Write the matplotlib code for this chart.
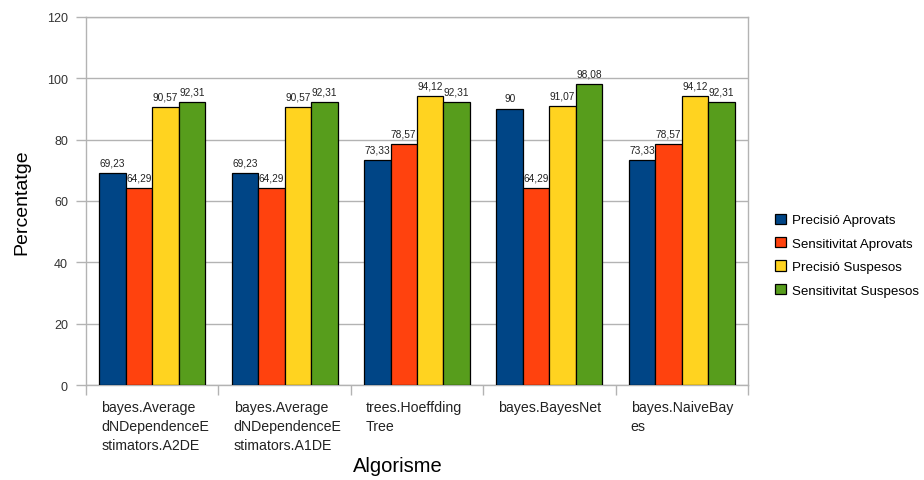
import matplotlib
matplotlib.use("Agg")
import matplotlib.pyplot as plt
import numpy as np
from matplotlib.patches import Patch

plt.rcParams['font.family'] = ['Liberation Sans', 'DejaVu Sans']

categories = [
    "bayes.Average\ndNDependenceE\nstimators.A2DE",
    "bayes.Average\ndNDependenceE\nstimators.A1DE",
    "trees.Hoeffding\nTree",
    "bayes.BayesNet",
    "bayes.NaiveBay\nes",
]
series_names = ["Precisió Aprovats", "Sensitivitat Aprovats",
                "Precisió Suspesos", "Sensitivitat Suspesos"]
precisio_aprovats = [69.23, 69.23, 73.33, 90, 73.33]
sensitivitat_aprovats = [64.29, 64.29, 78.57, 64.29, 78.57]
precisio_suspesos = [90.57, 90.57, 94.12, 91.07, 94.12]
sensitivitat_suspesos = [92.31, 92.31, 92.31, 98.08, 92.31]
y_ticks = [0, 20, 40, 60, 80, 100, 120]

series = [precisio_aprovats, sensitivitat_aprovats,
          precisio_suspesos, sensitivitat_suspesos]
colors = ["#004586", "#ff420e", "#ffd320", "#579d1c"]
grid_col = "#b3b3b3"


def fmt(v):
    s = f"{v:.2f}".rstrip("0").rstrip(".")
    return s.replace(".", ",")


fig = plt.figure(figsize=(9.24, 4.81), dpi=100)
ax = fig.add_axes([0.0931, 0.1975, 0.7164, 0.7651])

x = np.arange(len(categories))
w = 0.2
for k, (vals, col) in enumerate(zip(series, colors)):
    pos = x - 0.3 + k * w
    ax.bar(pos, vals, width=w, color=col, edgecolor="black", linewidth=0.9, zorder=3)
    for p, v in zip(pos, vals):
        ax.text(p, v + 1.8, fmt(v), ha="center", va="bottom", fontsize=7.3,
                color="#222222", zorder=4)

ax.set_xlim(-0.5, len(categories) - 0.5)
ax.set_ylim(0, 120)
ax.set_yticks(y_ticks)
ax.set_yticklabels([str(t) for t in y_ticks], fontsize=9, color="#333333")
ax.yaxis.grid(True, color=grid_col, linewidth=1, zorder=0)
ax.set_axisbelow(True)

ax.set_xticks(np.arange(len(categories) + 1) - 0.5)
ax.set_xticklabels([])
ax.tick_params(axis="both", direction="out", length=7, color=grid_col, width=1)
ax.tick_params(axis="y", pad=6)

for side in ["left", "right", "top", "bottom"]:
    ax.spines[side].set_color(grid_col)
    ax.spines[side].set_linewidth(1)

for i, lab in enumerate(categories):
    ax.text(i - 0.385, -5.0, lab, ha="left", va="top", fontsize=10.2,
            color="#222222", linespacing=1.45,
            transform=ax.transData, clip_on=False)

ax.set_ylabel("Percentatge", fontsize=14, labelpad=12)
fig.text(0.431, 0.01, "Algorisme", ha="center", va="bottom", fontsize=14.5)

handles = [Patch(facecolor=c, edgecolor="black", linewidth=0.9) for c in colors]
fig.legend(handles, series_names, loc="upper left",
           bbox_to_anchor=(0.833, 0.565), frameon=False, fontsize=9.6,
           handlelength=0.8, handleheight=0.8, handletextpad=0.45,
           labelspacing=0.8, borderaxespad=0)

fig.savefig("out.png", dpi=100)
